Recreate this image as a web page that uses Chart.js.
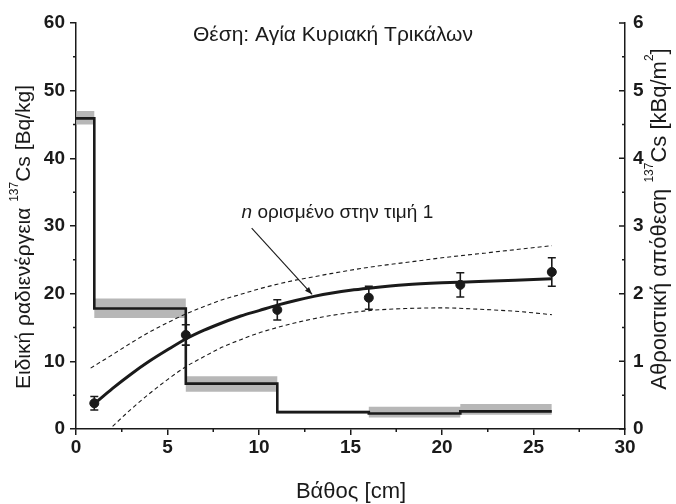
<!DOCTYPE html>
<html>
<head>
<meta charset="utf-8">
<script src="https://cdn.jsdelivr.net/npm/chart.js@4"></script>
<style>
html,body{margin:0;padding:0;background:#fff;}
#wrap{width:676px;height:504px;position:relative;}
</style>
</head>
<body>
<div id="wrap"><canvas id="c" width="676" height="504"></canvas></div>
<script>
// ---- Data ----
const stepX      = [0, 1, 6, 11, 16, 21, 26];
const stepY      = [45.9, 17.8, 6.7, 2.5, 2.3, 2.6, 2.6];      // Bq/kg
const bandUpper  = [47.0, 19.3, 7.8, 2.7, 3.3, 3.7, 3.7];
const bandLower  = [45.0, 16.4, 5.5, 2.3, 1.7, 2.1, 2.1];

const depthPts   = [1, 6, 11, 16, 21, 26];
const cumPts     = [0.38, 1.39, 1.76, 1.94, 2.13, 2.32];       // kBq/m2
const cumErr     = [0.10, 0.15, 0.15, 0.17, 0.18, 0.21];

const fitX   = [1, 2, 3, 4, 5, 6, 7, 8, 9, 10, 11, 12, 13, 14, 15, 16, 18, 20, 22, 24, 26];
const fitY   = [0.37, 0.60, 0.81, 1.00, 1.17, 1.33, 1.46, 1.57, 1.67, 1.75, 1.83, 1.90, 1.96, 2.01, 2.05, 2.08, 2.13, 2.16, 2.18, 2.20, 2.22];

const upX    = [0.8, 2, 3, 4, 5, 6, 7, 8, 9, 10, 11, 12, 13, 14, 16, 18, 20, 22, 24, 26];
const upY    = [0.90, 1.10, 1.27, 1.43, 1.57, 1.70, 1.81, 1.91, 1.99, 2.07, 2.14, 2.20, 2.25, 2.30, 2.39, 2.46, 2.53, 2.59, 2.65, 2.71];
const loX    = [2, 3, 4, 5, 6, 7, 8, 9, 10, 11, 12, 13, 14, 16, 18, 20, 22, 24, 26];
const loY    = [0.04, 0.29, 0.52, 0.73, 0.92, 1.07, 1.21, 1.32, 1.42, 1.50, 1.57, 1.63, 1.68, 1.75, 1.78, 1.79, 1.77, 1.74, 1.69];

const titleText   = 'Θέση: Αγία Κυριακή Τρικάλων';
const xTitle      = 'Βάθος [cm]';
const noteText    = ' ορισμένο στην τιμή 1';
const leftTitle   = ['Ειδική ραδιενέργεια ', '137', 'Cs [Bq/kg]'];
const rightTitle  = ['Αθροιστική απόθεση ', '137', 'Cs [kBq/m', '2', ']'];

const xTicksMinor  = [2.5, 7.5, 12.5, 17.5, 22.5, 27.5];
const yTicksMinor  = [5, 15, 25, 35, 45, 55];
const y1TicksMajor = [0, 1, 2, 3, 4, 5, 6];
const y1TicksMinor = [0.5, 1.5, 2.5, 3.5, 4.5, 5.5];

const zip = (xs, ys) => xs.map((x, i) => ({x, y: ys[i]}));

const FONT = '"Liberation Sans", Arial, sans-serif';
const INK = '#1a1a1a';

const decorPlugin = {
  id: 'decor',
  afterDatasetsDraw(chart) {
    const ctx = chart.ctx;
    const xs = chart.scales.x, ys = chart.scales.y, y1 = chart.scales.y1;
    ctx.save();
    // error bars
    ctx.strokeStyle = INK; ctx.lineWidth = 1.6;
    depthPts.forEach((d, i) => {
      const px = xs.getPixelForValue(d);
      const pt = y1.getPixelForValue(cumPts[i] + cumErr[i]);
      const pb = y1.getPixelForValue(cumPts[i] - cumErr[i]);
      ctx.beginPath();
      ctx.moveTo(px, pt); ctx.lineTo(px, pb);
      ctx.moveTo(px - 4, pt); ctx.lineTo(px + 4, pt);
      ctx.moveTo(px - 4, pb); ctx.lineTo(px + 4, pb);
      ctx.stroke();
    });
    // annotation arrow
    const ax0 = xs.getPixelForValue(9.6), ay0 = ys.getPixelForValue(29.7);
    const ax1 = xs.getPixelForValue(12.9), ay1 = ys.getPixelForValue(19.9);
    ctx.lineWidth = 1.1;
    ctx.beginPath(); ctx.moveTo(ax0, ay0); ctx.lineTo(ax1, ay1); ctx.stroke();
    const ang = Math.atan2(ay1 - ay0, ax1 - ax0);
    ctx.fillStyle = INK;
    ctx.beginPath();
    ctx.moveTo(ax1, ay1);
    ctx.lineTo(ax1 - 8 * Math.cos(ang - 0.35), ay1 - 8 * Math.sin(ang - 0.35));
    ctx.lineTo(ax1 - 8 * Math.cos(ang + 0.35), ay1 - 8 * Math.sin(ang + 0.35));
    ctx.closePath(); ctx.fill();
    ctx.restore();
  },
  afterDraw(chart) {
    const ctx = chart.ctx;
    const xs = chart.scales.x, ys = chart.scales.y, y1 = chart.scales.y1;
    const ca = chart.chartArea;
    ctx.save();
    ctx.strokeStyle = INK; ctx.lineWidth = 1.5;
    // minor ticks
    ctx.beginPath();
    xTicksMinor.forEach(v => { const p = xs.getPixelForValue(v); ctx.moveTo(p, ca.bottom); ctx.lineTo(p, ca.bottom + 3); });
    yTicksMinor.forEach(v => { const p = ys.getPixelForValue(v); ctx.moveTo(ca.left, p); ctx.lineTo(ca.left - 3, p); });
    y1TicksMajor.forEach(v => { const p = y1.getPixelForValue(v); ctx.moveTo(ca.right, p); ctx.lineTo(ca.right - 6, p); });
    y1TicksMinor.forEach(v => { const p = y1.getPixelForValue(v); ctx.moveTo(ca.right, p); ctx.lineTo(ca.right - 3, p); });
    ctx.stroke();

    ctx.fillStyle = INK;
    ctx.textBaseline = 'middle';
    // title
    ctx.font = '21px ' + FONT;
    ctx.textAlign = 'center';
    ctx.fillText(titleText, 333, 35);
    // note
    const nx = xs.getPixelForValue(9.05), ny = ys.getPixelForValue(31.9);
    ctx.textAlign = 'left';
    ctx.font = 'italic 19px ' + FONT;
    ctx.fillText('n', nx, ny);
    const nw = ctx.measureText('n').width;
    ctx.font = '19px ' + FONT;
    ctx.fillText(noteText, nx + nw, ny);
    // x title
    ctx.font = '22px ' + FONT;
    ctx.textAlign = 'center';
    ctx.fillText(xTitle, 351, 492);

    // rotated titles with superscripts
    function drawRich(parts, supIdx, cx, cy, size) {
      const big = size + 'px ' + FONT, small = Math.round(size * 0.55) + 'px ' + FONT;
      let total = 0;
      parts.forEach((p, i) => { ctx.font = supIdx.includes(i) ? small : big; total += ctx.measureText(p).width; });
      ctx.save();
      ctx.translate(cx, cy);
      ctx.rotate(-Math.PI / 2);
      ctx.textAlign = 'left';
      let x = -total / 2;
      parts.forEach((p, i) => {
        const sup = supIdx.includes(i);
        ctx.font = sup ? small : big;
        ctx.fillText(p, x, sup ? -size * 0.45 : 0);
        x += ctx.measureText(p).width;
      });
      ctx.restore();
    }
    drawRich(leftTitle, [1], 24, 237, 21);
    drawRich(rightTitle, [1, 3], 660, 219, 22);
    ctx.restore();
  }
};

const tickFont = {family: FONT, size: 19, weight: 'bold'};

new Chart(document.getElementById('c'), {
  type: 'line',
  data: {
    datasets: [
      { label: 'bandUp', data: zip(stepX, bandUpper), stepped: true, borderWidth: 0, pointRadius: 0,
        backgroundColor: 'rgba(170,170,170,0.85)', fill: '+1', yAxisID: 'y', order: 5 },
      { label: 'bandLo', data: zip(stepX, bandLower), stepped: true, borderWidth: 0, pointRadius: 0,
        fill: false, yAxisID: 'y', order: 6 },
      { label: 'step', data: zip(stepX, stepY), stepped: true, borderColor: INK, borderWidth: 2.6,
        pointRadius: 0, fill: false, yAxisID: 'y', order: 4 },
      { label: 'upper', data: zip(upX, upY), borderColor: INK, borderWidth: 1.1, borderDash: [4, 3],
        pointRadius: 0, fill: false, cubicInterpolationMode: 'monotone', yAxisID: 'y1', order: 3 },
      { label: 'lower', data: zip(loX, loY), borderColor: INK, borderWidth: 1.1, borderDash: [4, 3],
        pointRadius: 0, fill: false, cubicInterpolationMode: 'monotone', yAxisID: 'y1', order: 3 },
      { label: 'fit', data: zip(fitX, fitY), borderColor: INK, borderWidth: 3,
        pointRadius: 0, fill: false, cubicInterpolationMode: 'monotone', yAxisID: 'y1', order: 2 },
      { label: 'points', data: zip(depthPts, cumPts), showLine: false, pointRadius: 4.5,
        pointBackgroundColor: INK, pointBorderColor: INK, yAxisID: 'y1', order: 1 }
    ]
  },
  options: {
    responsive: false,
    animation: false,
    devicePixelRatio: 1,
    layout: { padding: { top: 23, left: 0, right: 0, bottom: 0 } },
    plugins: { legend: { display: false }, tooltip: { enabled: false }, title: { display: false } },
    scales: {
      x: {
        type: 'linear', min: 0, max: 30,
        ticks: { stepSize: 5, color: INK, font: tickFont, padding: 1, maxRotation: 0 },
        grid: { drawOnChartArea: false, drawTicks: true, tickLength: 6, color: INK, lineWidth: 1.5 },
        border: { color: INK, width: 1.5 },
        afterFit(s) { s.height = 75; }
      },
      y: {
        type: 'linear', position: 'left', min: 0, max: 60,
        ticks: { stepSize: 10, color: INK, font: tickFont, padding: 5 },
        grid: { drawOnChartArea: false, drawTicks: true, tickLength: 6, color: INK, lineWidth: 1.5 },
        border: { color: INK, width: 1.5 },
        afterFit(s) { s.width = 76; }
      },
      y1: {
        type: 'linear', position: 'right', min: 0, max: 6,
        ticks: { stepSize: 1, color: INK, font: tickFont, padding: 8 },
        grid: { drawOnChartArea: false, drawTicks: false },
        border: { color: INK, width: 1.5 },
        afterFit(s) { s.width = 51; }
      }
    }
  },
  plugins: [decorPlugin]
});
</script>
</body>
</html>
